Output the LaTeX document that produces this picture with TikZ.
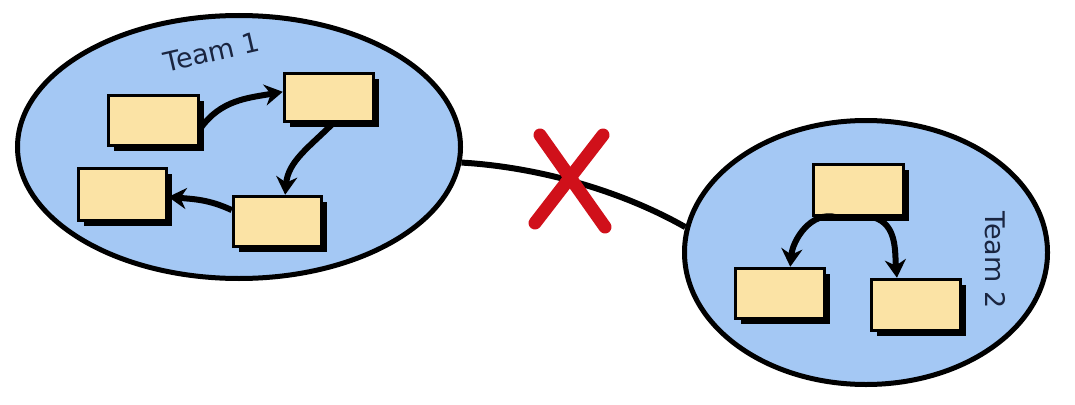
\documentclass[tikz,border=0pt]{standalone}
\usepackage{fontspec}
\setmainfont{DejaVu Sans}
\usetikzlibrary{shapes.geometric,shadows,arrows.meta}
\definecolor{teamblue}{RGB}{164,200,244}
\definecolor{boxyellow}{RGB}{251,227,165}
\definecolor{labelnavy}{RGB}{26,37,64}
\definecolor{crossred}{RGB}{208,16,26}
\begin{document}
\begin{tikzpicture}[x=1pt,y=1pt,
 team/.style={ellipse, draw=black, line width=5pt, fill=teamblue, inner sep=0pt},
 taskbox/.style={rectangle, draw=black, line width=3.5pt, fill=boxyellow, inner sep=0pt,
   drop shadow={shadow xshift=5pt, shadow yshift=-5pt, fill=black, opacity=1}},
 flow/.style={line width=6pt, -{Stealth[length=18pt,width=21pt]}},
 link/.style={line width=6pt},
 cross/.style={line width=13pt, line cap=round, draw=crossred},
 teamlabel/.style={text=labelnavy, font=\fontsize{27}{30}\selectfont, inner sep=0pt}]
\useasboundingbox (0,0) rectangle (1075,-404);
\fill[white] (0,0) rectangle (1075,-404);
% teams
\node[team, minimum width=443pt, minimum height=263pt] (t1) at (239,-147) {};
\node[team, minimum width=363pt, minimum height=264pt] (t2) at (866,-252.5) {};
% link between teams
\draw[link] (t1.-4) .. controls (537,-167) and (620,-190) .. (t2.172);
% red cross
\coordinate (xc) at (571,-180);
\draw[cross] (540,-135) -- (605,-227);
\draw[cross] (603,-135) -- (535,-223);
% labels
\node[teamlabel, rotate=13] (l1) at (212,-52) {Team 1};
\node[teamlabel, rotate=-90] (l2) at (995,-260) {Team 2};
% team 1 boxes
\node[taskbox, minimum width=90pt, minimum height=50pt] (a) at (153.5,-120.5) {};
\node[taskbox, minimum width=89pt, minimum height=48pt] (b) at (329,-97.5) {};
\node[taskbox, minimum width=88pt, minimum height=52pt] (c) at (122.5,-194.5) {};
\node[taskbox, minimum width=88pt, minimum height=50pt] (d) at (277.5,-221.5) {};
% team 2 boxes
\node[taskbox, minimum width=90pt, minimum height=51pt] (e) at (858.5,-190) {};
\node[taskbox, minimum width=89pt, minimum height=50pt] (f) at (780,-293.5) {};
\node[taskbox, minimum width=89pt, minimum height=51pt] (g) at (916,-305) {};
% flows
\draw[flow] (a.-10) to[out=55, in=190] (b.173);
\draw[flow] (b.-81) to[out=225, in=85] (d.74);
\draw[flow] (d.166) to[out=155, in=-5] (c.-3);
\draw[flow] (e.231) to[out=165, in=85] (f.69);
\draw[flow] (e.-62) to[out=-15, in=95] (g.125);
\end{tikzpicture}
\end{document}
